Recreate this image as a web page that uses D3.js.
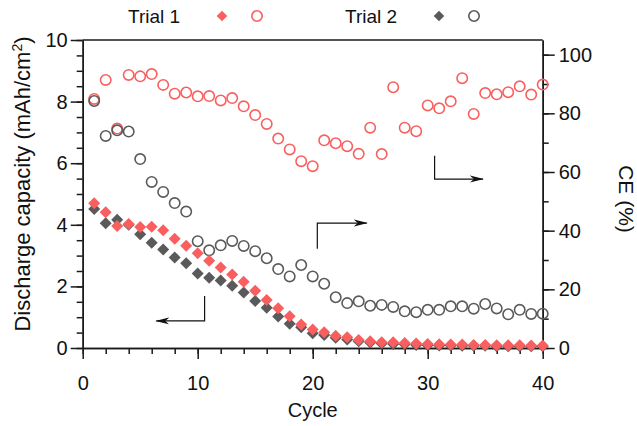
<!DOCTYPE html>
<html>
<head>
<meta charset="utf-8">
<script src="https://cdn.jsdelivr.net/npm/d3@7.9.0/dist/d3.min.js"></script>
<style>
  html, body { margin: 0; padding: 0; background: #fff; }
  svg { display: block; font-family: Arial, "Liberation Sans", sans-serif; }
</style>
</head>
<body>
<div id="chart"></div>
<script>
// cycle number for every point
const cycles = [1, 2, 3, 4, 5, 6, 7, 8, 9, 10, 11, 12, 13, 14, 15, 16, 17, 18, 19, 20,
  21, 22, 23, 24, 25, 26, 27, 28, 29, 30, 31, 32, 33, 34, 35, 36, 37, 38, 39, 40];

// discharge capacity (mAh/cm2), left axis
const capTrial1 = [4.70, 4.41, 3.96, 4.03, 3.93, 3.94, 3.82, 3.55, 3.32, 3.08,
  2.83, 2.61, 2.39, 2.15, 1.86, 1.56, 1.29, 1.03, 0.76, 0.60,
  0.51, 0.40, 0.35, 0.26, 0.22, 0.19, 0.19, 0.16, 0.15, 0.13,
  0.12, 0.11, 0.11, 0.10, 0.10, 0.09, 0.09, 0.09, 0.08, 0.08];
const capTrial2 = [4.51, 4.05, 4.16, 4.00, 3.69, 3.42, 3.20, 2.94, 2.75, 2.42,
  2.28, 2.19, 2.02, 1.80, 1.53, 1.31, 1.02, 0.79, 0.67, 0.48,
  0.42, 0.33, 0.28, 0.22, 0.18, 0.15, 0.13, 0.12, 0.10, 0.09,
  0.08, 0.08, 0.07, 0.07, 0.07, 0.06, 0.06, 0.06, 0.06, 0.06];

// coulombic efficiency (%), right axis
const ceTrial1 = [84.9, 91.4, 74.8, 93.1, 92.6, 93.4, 89.7, 86.7, 87.1, 85.8,
  85.9, 84.4, 85.2, 82.4, 79.4, 76.4, 71.4, 67.7, 63.7, 62.0,
  70.8, 69.8, 68.8, 66.2, 75.1, 66.1, 88.9, 75.1, 73.9, 82.7,
  81.7, 84.1, 92.0, 79.8, 86.9, 86.5, 87.2, 89.2, 86.4, 89.8];
const ceTrial2 = [84.2, 72.3, 74.2, 73.8, 64.4, 56.6, 53.2, 49.4, 46.5, 36.4,
  33.3, 35.0, 36.5, 34.8, 33.0, 30.6, 26.9, 24.4, 28.3, 24.4,
  21.9, 17.3, 15.3, 15.9, 14.4, 14.7, 14.0, 12.5, 12.2, 13.0,
  13.0, 14.2, 14.2, 13.4, 15.0, 13.5, 11.5, 13.0, 11.6, 11.7];

const xTicks = [0, 10, 20, 30, 40];
const capTicks = [0, 2, 4, 6, 8, 10];
const ceTicks = [0, 20, 40, 60, 80, 100];

const trials = ["Trial 1", "Trial 2"];
const colors = ["#fa5f5f", "#5a5a5a"];

const width = 637;
const height = 426;
const margin = { top: 40, right: 94.3, bottom: 78, left: 82.7 };

const usableArea = {
  top: margin.top,
  right: width - margin.right,
  bottom: height - margin.bottom,
  left: margin.left,
};

const svg = d3.select("#chart")
  .append("svg")
  .attr("width", width)
  .attr("height", height)
  .attr("viewBox", `0 0 ${width} ${height}`);

const xScale = d3.scaleLinear().domain([0, 40]).range([usableArea.left, usableArea.right]);
const yCap = d3.scaleLinear().domain([0, 10]).range([usableArea.bottom, usableArea.top]);
const yCE = d3.scaleLinear().domain([0, 105]).range([usableArea.bottom, usableArea.top]);

const axisColor = "#1a1a1a";

function styleAxis(g) {
  g.select(".domain").attr("stroke", axisColor).attr("stroke-width", 1.5);
  g.selectAll(".tick line").attr("stroke", axisColor).attr("stroke-width", 1.5);
  g.selectAll(".tick text").attr("fill", "#111").style("font-size", "20px");
}

// x axis: minor ticks, then major ticks with labels
svg.append("g")
  .attr("transform", `translate(0, ${usableArea.bottom})`)
  .call(d3.axisBottom(xScale).tickValues(d3.range(0, 41, 2)).tickSize(6).tickFormat("").tickSizeOuter(0))
  .call(styleAxis);
svg.append("g")
  .attr("transform", `translate(0, ${usableArea.bottom})`)
  .call(d3.axisBottom(xScale).tickValues(xTicks).tickSize(11).tickPadding(17).tickSizeOuter(0))
  .call(styleAxis);

// left axis
svg.append("g")
  .attr("transform", `translate(${usableArea.left}, 0)`)
  .call(d3.axisLeft(yCap).tickValues(d3.range(0, 10.01, 0.5)).tickSize(6).tickFormat("").tickSizeOuter(0))
  .call(styleAxis);
svg.append("g")
  .attr("transform", `translate(${usableArea.left}, 0)`)
  .call(d3.axisLeft(yCap).tickValues(capTicks).tickSize(12).tickPadding(3).tickSizeOuter(0))
  .call(styleAxis);

// right axis
svg.append("g")
  .attr("transform", `translate(${usableArea.right}, 0)`)
  .call(d3.axisRight(yCE).tickValues(d3.range(0, 101, 10)).tickSize(6).tickFormat("").tickSizeOuter(0))
  .call(styleAxis);
svg.append("g")
  .attr("transform", `translate(${usableArea.right}, 0)`)
  .call(d3.axisRight(yCE).tickValues(ceTicks).tickSize(12).tickPadding(4).tickSizeOuter(0))
  .call(styleAxis);

// top frame line
svg.append("line")
  .attr("x1", usableArea.left).attr("x2", usableArea.right)
  .attr("y1", usableArea.top).attr("y2", usableArea.top)
  .attr("stroke", axisColor).attr("stroke-width", 1.5);

// axis titles
svg.append("text")
  .attr("x", (usableArea.left + usableArea.right) / 2)
  .attr("y", 417)
  .attr("text-anchor", "middle")
  .style("font-size", "20px")
  .attr("fill", "#111")
  .text("Cycle");

const leftTitle = svg.append("text")
  .attr("transform", "translate(30, 184) rotate(-90)")
  .attr("text-anchor", "middle")
  .style("font-size", "22px")
  .attr("fill", "#111");
leftTitle.append("tspan").text("Discharge capacity (mAh/cm");
leftTitle.append("tspan").attr("dy", -8).style("font-size", "14px").text("2");
leftTitle.append("tspan").attr("dy", 8).text(")");

svg.append("text")
  .attr("transform", "translate(619, 199) rotate(90)")
  .attr("text-anchor", "middle")
  .style("font-size", "21px")
  .attr("fill", "#111")
  .text("CE (%)");

// markers
const diamond = d3.symbol().type(d3.symbolSquare).size(72);
const capSeries = [capTrial2, capTrial1];
const ceSeries = [ceTrial1, ceTrial2];

ceSeries.forEach((vals, i) => {
  svg.append("g")
    .selectAll("circle")
    .data(vals)
    .join("circle")
    .attr("cx", (d, j) => xScale(cycles[j]))
    .attr("cy", d => yCE(d))
    .attr("r", 5.2)
    .attr("fill", "none")
    .attr("stroke", colors[i])
    .attr("stroke-width", 1.6);
});

capSeries.forEach((vals, k) => {
  const i = k === 0 ? 1 : 0;
  svg.append("g")
    .selectAll("path")
    .data(vals)
    .join("path")
    .attr("d", diamond)
    .attr("transform", (d, j) => `translate(${xScale(cycles[j])}, ${yCap(d)}) rotate(45)`)
    .attr("fill", colors[i]);
});

// legend
const legend = svg.append("g");
const legendX = [128, 345];
trials.forEach((t, i) => {
  legend.append("text")
    .attr("x", legendX[i])
    .attr("y", 23)
    .style("font-size", "19px")
    .attr("fill", "#111")
    .text(t);
  legend.append("path")
    .attr("d", d3.symbol().type(d3.symbolSquare).size(56))
    .attr("transform", `translate(${legendX[i] + 94}, 16) rotate(45)`)
    .attr("fill", colors[i]);
  legend.append("circle")
    .attr("cx", legendX[i] + 129)
    .attr("cy", 16)
    .attr("r", 5.2)
    .attr("fill", "none")
    .attr("stroke", colors[i])
    .attr("stroke-width", 1.6);
});

// arrows pointing to the axis each series belongs to
svg.append("defs").append("marker")
  .attr("id", "arrow")
  .attr("viewBox", "0 0 14 8")
  .attr("refX", 13)
  .attr("refY", 4)
  .attr("markerWidth", 14)
  .attr("markerHeight", 8)
  .attr("markerUnits", "userSpaceOnUse")
  .attr("orient", "auto")
  .append("path")
  .attr("d", "M0,0.5 L14,4 L0,7.5 L4,4 Z")
  .attr("fill", "#111");

// [cycle, value] corners of each arrow, in the units of its axis
const arrows = [
  [[10.6, 1.69], [10.6, 0.88], [6.4, 0.88]],
  [[20.4, 33.8], [20.4, 42.6], [24.7, 42.6]],
  [[30.6, 65.5], [30.6, 57.6], [34.8, 57.6]],
];
const arrowAxis = [yCap, yCE, yCE];

arrows.forEach((pts, i) => {
  svg.append("path")
    .attr("d", d3.line().x(p => xScale(p[0])).y(p => arrowAxis[i](p[1]))(pts))
    .attr("fill", "none")
    .attr("stroke", "#111")
    .attr("stroke-width", 1.2)
    .attr("marker-end", "url(#arrow)");
});
</script>
</body>
</html>
